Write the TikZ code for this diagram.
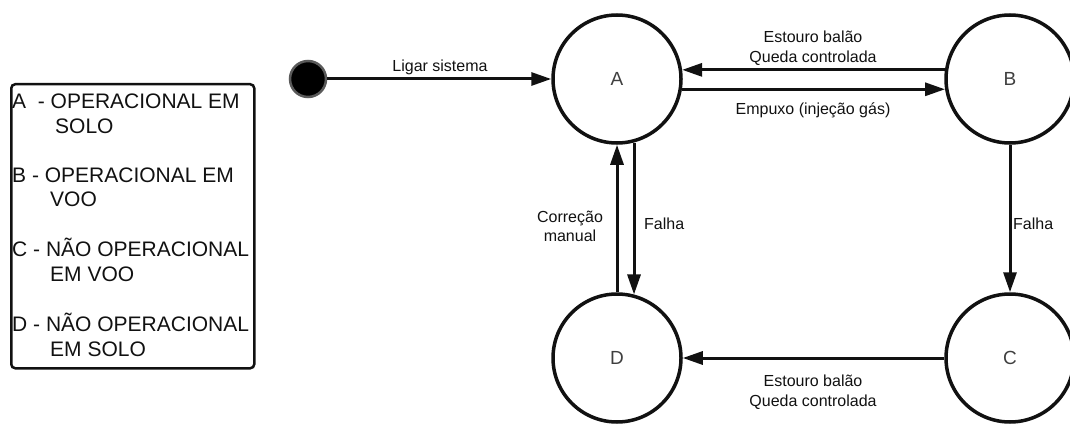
\documentclass[tikz,border=0pt]{standalone}
\usepackage{fontspec}
\setmainfont{Liberation Sans}
\usetikzlibrary{arrows.meta}
\definecolor{ink}{HTML}{111111}
\definecolor{stateletter}{HTML}{3F3F3F}
\definecolor{dotrim}{HTML}{5A5A5A}
\begin{document}
\begin{tikzpicture}[x=1pt,y=-1pt,
  state/.style={circle, draw=ink, line width=3.5pt, minimum size=128pt, inner sep=0pt,
    font=\fontsize{19}{19}\selectfont, text=stateletter},
  initial/.style={circle, fill=black, draw=dotrim, line width=2.5pt, minimum size=36pt, inner sep=0pt},
  trans/.style={draw=ink, line width=3pt, -{Triangle[length=20pt,width=13pt]}},
  lbl/.style={font=\fontsize{16}{20}\selectfont, text=ink, inner sep=0pt, anchor=base},
  lblw/.style={lbl, anchor=base west},
  legendline/.style={font=\fontsize{21}{21}\selectfont, text=ink, inner sep=0pt, anchor=base west},
  legendbox/.style={draw=ink, line width=2.5pt, rounded corners=4pt, inner sep=0pt}
]
\useasboundingbox (0,0) rectangle (1070,425);

% legend
\node[legendbox, minimum width=243pt, minimum height=284pt, anchor=north west] (legend) at (10,83) {};
\node[legendline] (la1) at (12,109) {A~~- OPERACIONAL EM};
\node[legendline] (la2) at (55,133) {SOLO};
\node[legendline] (lb1) at (12,182) {B - OPERACIONAL EM};
\node[legendline] (lb2) at (50,206) {VOO};
\node[legendline] (lc1) at (12,256) {C - NÃO OPERACIONAL};
\node[legendline] (lc2) at (50,281) {EM VOO};
\node[legendline] (ld1) at (12,331) {D - NÃO OPERACIONAL};
\node[legendline] (ld2) at (50,356) {EM SOLO};

% states
\node[initial] (init) at (308,79) {};
\node[state] (A) at (617,79) {A};
\node[state] (B) at (1010,79) {B};
\node[state] (C) at (1010,358) {C};
\node[state] (D) at (617,358) {D};

% transitions
\draw[trans] (init) -- (A);
\draw[trans] (B.172) -- (A.8);
\draw[trans] (A.-9.5) -- (B.189.5);
\draw[trans] (D) -- (A);
\draw[trans] (A.-75) -- (D.75);
\draw[trans] (B) -- (C);
\draw[trans] (C) -- (D);

% transition labels
\node[lbl] (tInit) at (440,71.5) {Ligar sistema};
\node[lbl] (tBA1) at (813,42.7) {Estouro balão};
\node[lbl] (tBA2) at (813,62.7) {Queda controlada};
\node[lbl] (tAB) at (813,115) {Empuxo (injeção gás)};
\node[lbl] (tCD1) at (813,386) {Estouro balão};
\node[lbl] (tCD2) at (813,406) {Queda controlada};
\node[lbl] (tDA1) at (570,222.7) {Correção};
\node[lbl] (tDA2) at (570,241.7) {manual};
\node[lblw] (tAD) at (644,229) {Falha};
\node[lblw] (tBC) at (1013,229) {Falha};
\end{tikzpicture}
\end{document}
